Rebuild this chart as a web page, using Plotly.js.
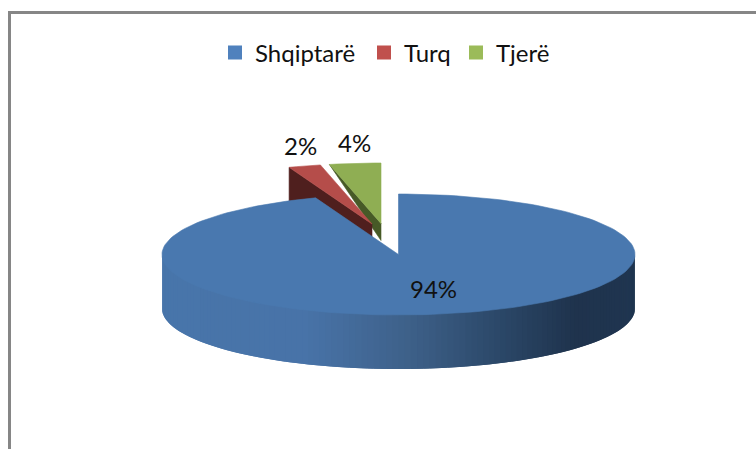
<!DOCTYPE html>
<html><head><meta charset="utf-8">
<script src="https://cdn.plot.ly/plotly-3.0.1.min.js"></script>
<style>html,body{margin:0;padding:0;background:#fff}#c{width:756px;height:449px}</style>
</head><body><div id="c"></div>
<script>
const categories = ['Shqiptarë','Turq','Tjerë'];
const shares = [94.3, 2.2, 3.5];
const legendColors = ['#4f81bd','#c0504d','#9bbb59'];
const topColors = ['#4978af','#b54d4a','#8fae53'];
const faceColors = ['#1f3550','#4f1f1e','#475a27'];
const wallStopX = [162,300,400,500,570,635];
const wallStopRGB = [[72,117,170],[72,115,168],[62,97,138],[42,70,102],[31,51,77],[31,53,80]];

const cx=398.5, cy=254.5, rx=236.5, ry=60.5, depth=54;
const offset=[[0,0],[-26.5,-30.5],[-17.5,-31]];
const faceOuterDrop=[0,54,0], faceInnerDrop=[0,54,17];
const legendTextX=[255,404,496];
const rad=d=>d*Math.PI/180;
const rim=(a,ox,oy)=>[cx+ox+rx*Math.sin(rad(a)), cy+oy-ry*Math.cos(rad(a))];

function poly(pts,color,lw){
  return {type:'scatter',mode:'lines',x:pts.map(p=>p[0]),y:pts.map(p=>p[1]),
    fill:'toself',fillcolor:color,line:{color:color,width:lw===undefined?0.6:lw},hoverinfo:'skip',showlegend:false};
}
let a0=0; const ranges=shares.map(v=>{const r=[a0,a0+v*3.6];a0=r[1];return r;});

function topPts(i){
  const [s,e]=ranges[i],[ox,oy]=offset[i],pts=[[cx+ox,cy+oy]];
  const n=Math.max(4,Math.ceil((e-s)/2));
  for(let k=0;k<=n;k++)pts.push(rim(s+(e-s)*k/n,ox,oy));
  pts.push([cx+ox,cy+oy]);return pts;
}
function cutFace(i){
  const s=ranges[i][0],[ox,oy]=offset[i],o=rim(s,ox,oy),c=[cx+ox,cy+oy];
  return [o,c,[c[0],c[1]+faceInnerDrop[i]],[o[0],o[1]+faceOuterDrop[i]],o];
}
function wallColor(x){
  let j=0;while(j<wallStopX.length-2&&x>wallStopX[j+1])j++;
  const t=Math.min(1,Math.max(0,(x-wallStopX[j])/(wallStopX[j+1]-wallStopX[j])));
  const c=wallStopRGB[j].map((v,k)=>Math.round(v+(wallStopRGB[j+1][k]-v)*t));
  return `rgb(${c})`;
}
const traces=[];
[2,1].forEach(i=>{
  traces.push(poly(cutFace(i),faceColors[i]));
  traces.push(poly(topPts(i),topColors[i]));
});
// front wall: each strip overlaps the one drawn before it, so no seams show;
// its upper edge runs slightly under the top surface
const stepA=1.5, tuck=1.5;
for(let a=90;a<270;a+=stepA){
  const p=rim(Math.max(90,a-stepA),0,0),m=rim(a,0,0),q=rim(a+stepA,0,0);
  traces.push(poly([[p[0],p[1]-tuck],[m[0],m[1]-tuck],[q[0],q[1]-tuck],[q[0],q[1]+depth],[m[0],m[1]+depth],[p[0],p[1]+depth],[p[0],p[1]-tuck]],wallColor((m[0]+q[0])/2),0));
}
traces.push(poly(topPts(0),topColors[0]));
categories.forEach((name,i)=>traces.push({type:'scatter',mode:'markers',x:[null],y:[null],name:name,
  legend:i?'legend'+(i+1):'legend',
  marker:{symbol:'square',size:14,color:legendColors[i]},hoverinfo:'skip',showlegend:true}));

const fontFam='Lato, Carlito, sans-serif';
const labelPos=[[433,288.5],[300,145.5],[354,142]];
const annotations=shares.map((v,i)=>({xref:'x',yref:'y',x:labelPos[i][0],y:labelPos[i][1],
  text:Math.round(v)+'%',showarrow:false,font:{family:fontFam,size:24,color:'#111'}}));

const mkLegend=i=>({x:(legendTextX[i]-40)/756,xanchor:'left',y:1-53/449,yanchor:'middle',
  font:{family:fontFam,size:24,color:'#111'},bgcolor:'rgba(0,0,0,0)'});
const layout={width:756,height:449,margin:{l:0,r:0,t:0,b:0},paper_bgcolor:'#fff',plot_bgcolor:'#fff',
  xaxis:{range:[0,756],visible:false,fixedrange:true},
  yaxis:{range:[449,0],visible:false,fixedrange:true},
  annotations,
  legend:mkLegend(0),legend2:mkLegend(1),legend3:mkLegend(2),
  shapes:[
    {type:'line',xref:'paper',yref:'paper',x0:8/756,x1:1,y0:1-12.5/449,y1:1-12.5/449,line:{color:'#868686',width:3}},
    {type:'line',xref:'paper',yref:'paper',x0:9.5/756,x1:9.5/756,y0:0,y1:1-11/449,line:{color:'#868686',width:3}}
  ]};
Plotly.newPlot('c',traces,layout,{displayModeBar:false,staticPlot:true});
</script></body></html>
